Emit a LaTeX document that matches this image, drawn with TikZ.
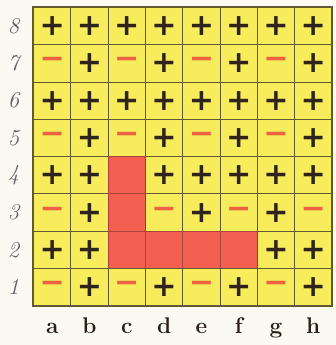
\documentclass[tikz,border=0pt]{standalone}
\usepackage{xcolor}
\usepackage{fontspec}
\usepackage{tikz}
\usetikzlibrary{positioning}

\newfontfamily\signfont{DejaVu Sans}
\definecolor{paper}{RGB}{250,249,242}
\definecolor{boardyellow}{RGB}{247,236,92}
\definecolor{cellred}{RGB}{242,94,80}
\definecolor{gridline}{RGB}{100,88,48}
\definecolor{signdark}{RGB}{48,36,26}
\definecolor{minusred}{RGB}{236,98,66}
\definecolor{labelgray}{RGB}{95,95,105}

\begin{document}
\begin{tikzpicture}[
  sq/.style={draw=gridline,line width=0.8pt,minimum size=1cm,inner sep=0pt,
    font=\signfont\bfseries\fontsize{23}{23}\selectfont},
  sqp/.style={fill=boardyellow,text=signdark,node contents={+}},
  sqm/.style={fill=boardyellow,text=minusred,node contents={\char"2212}},
  sqr/.style={fill=cellred,draw=cellred!70!black,node contents={}},
  rank/.style={font=\LARGE\itshape,text=labelgray},
  file/.style={font=\LARGE\bfseries,text=signdark!85!black,anchor=base}
]
\useasboundingbox[fill=paper] (-0.9,-1.05) rectangle (8.1,8.2);

% board, top rank first
\foreach \r/\row in {8/{p,p,p,p,p,p,p,p},7/{m,p,m,p,m,p,m,p},
                     6/{p,p,p,p,p,p,p,p},5/{m,p,m,p,m,p,m,p},
                     4/{p,p,r,p,p,p,p,p},3/{m,p,r,m,p,m,p,m},
                     2/{p,p,r,r,r,r,p,p},1/{m,p,m,p,m,p,m,p}}
  \foreach \s [count=\c] in \row
    \node (sq-\c-\r) at (\c-0.5,\r-0.5) [sq,sq\s];

\draw[gridline,line width=1.5pt] (sq-1-1.south west) rectangle (sq-8-8.north east);

% labels
\foreach \r in {1,...,8}
  \node[rank,left=0.25cm of sq-1-\r] (rank-\r) {\r};
\foreach \f [count=\c] in {a,b,c,d,e,f,g,h}
  \node[file] (file-\f) at ([yshift=-0.72cm]sq-\c-1.south) {\f};
\end{tikzpicture}
\end{document}
